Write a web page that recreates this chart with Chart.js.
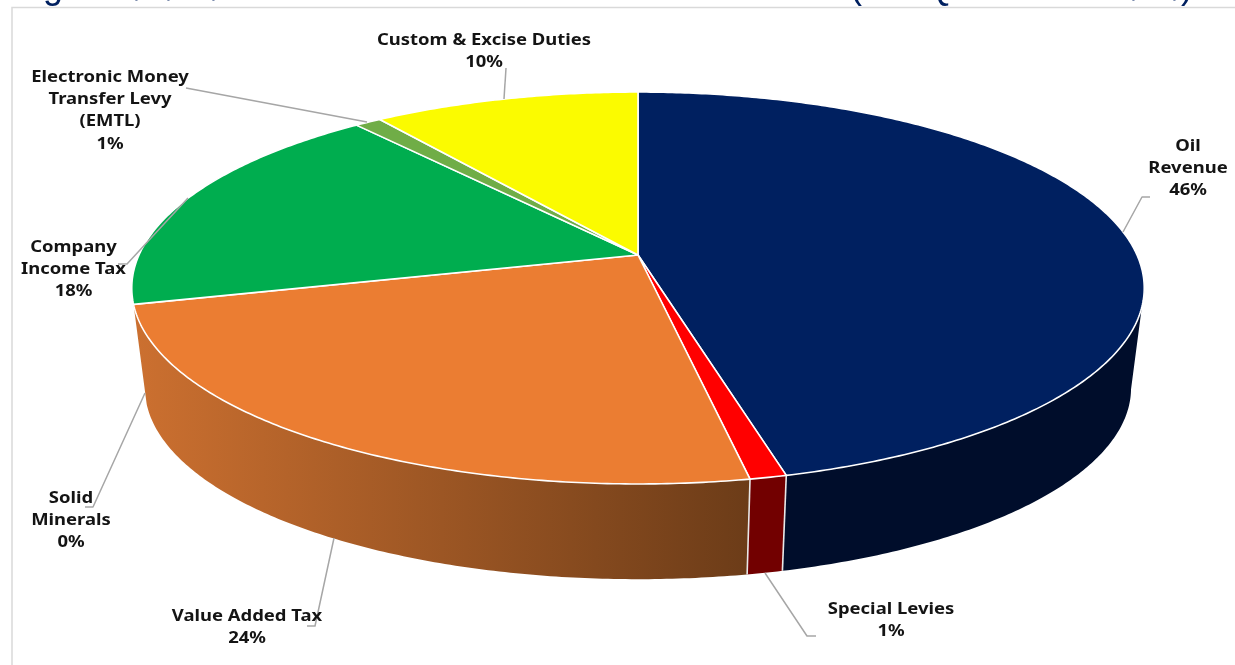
<!DOCTYPE html>
<html>
<head>
<meta charset="utf-8">
<title>Revenue composition</title>
<style>
  html, body { margin: 0; padding: 0; background: #fff; overflow: hidden; }
  canvas { display: block; }
</style>
<script src="https://cdn.jsdelivr.net/npm/chart.js@4/dist/chart.umd.min.js"></script>
</head>
<body>
<canvas id="myChart" width="1235" height="665"></canvas>
<script>
// Revenue shares, clockwise from twelve o'clock
var categories = ["Oil Revenue", "Special Levies", "Solid Minerals", "Value Added Tax", "Company Income Tax", "Electronic Money Transfer Levy (EMTL)", "Custom & Excise Duties"];
var shares = [46, 1, 0, 24, 18, 1, 10];
var shareLabels = ["46%", "1%", "0%", "24%", "18%", "1%", "10%"];

// Colours of the top face and of the side wall (left and right end of its gradient)
var topColors = ["#002060", "#ff0000", "#a5a5a5", "#eb7d32", "#00ad4f", "#70ad47", "#fbfb00"];
var wallLeft = ["#000d2b", "#720000", "#555555", "#cc7030", "#006a30", "#44692b", "#9a9a00"];
var wallRight = ["#000d2b", "#720000", "#555555", "#6c3c18", "#006a30", "#44692b", "#9a9a00"];

// Wrapped category names for the callouts
var labelLines = [
    ["Oil", "Revenue"],
    ["Special Levies"],
    ["Solid", "Minerals"],
    ["Value Added Tax"],
    ["Company", "Income Tax"],
    ["Electronic Money", "Transfer Levy", "(EMTL)"],
    ["Custom & Excise Duties"]
];
var labelBoxes = [
    { x: 1188, y: 145 }, { x: 891, y: 608 }, { x: 71, y: 497 }, { x: 247, y: 615 },
    { x: 73.5, y: 246 }, { x: 110, y: 76 }, { x: 484, y: 39 }
];
var leaders = [
    [[1150, 197], [1142, 197], [1123, 232]],
    [[816, 636], [807, 636], [765, 573]],
    [[85, 507], [93, 507], [145, 393]],
    [[307, 626], [315, 626], [334, 538]],
    [[118, 264], [127, 264], [188, 198]],
    [[186, 88], [367, 122]],
    [[506, 68], [504, 99]]
];

// Heading runs off the top edge, only the lowest strokes stay visible
var headingPieces = [
    { text: "Figure", x: 13, y: -2 }, { text: ",", x: 132, y: -4 }, { text: ",", x: 164, y: -4 }, { text: ",", x: 209, y: -4 },
    { text: "(", x: 850, y: -2 }, { text: "Q", x: 925, y: -1 }, { text: ",", x: 1129, y: -4 }, { text: ",", x: 1170, y: -4 }, { text: ")", x: 1181, y: -2 }
];

// Disc projections, the perspective pushes the apex above the ellipse centre
var topDisc = { cx: 638, cy: 255, a: 499, b: 190.4, p: 0.1684 };
var baseDisc = { cx: 638, cy: 356, a: 486, b: 185.6, p: 0.1684 };

// Part of the rim whose wall faces the viewer
var wallFrom = 10 * Math.PI / 180;
var wallTo = 165.7 * Math.PI / 180;

function project(disc, angle) {
    var u = Math.cos(angle), v = Math.sin(angle);
    var w = 1 - disc.p * v;
    return { x: disc.cx + disc.a * u / w, y: disc.cy + disc.b * v / w };
}

function arcPoints(disc, start, end) {
    var steps = Math.max(2, Math.ceil((end - start) / 0.01));
    var pts = [];
    for (var i = 0; i <= steps; i++) {
        pts.push(project(disc, start + (end - start) * i / steps));
    }
    return pts;
}

var pie3d = {
    id: "pie3d",
    beforeDatasetsDraw: function(chart) {
        var ctx = chart.ctx;
        var arcs = chart.getDatasetMeta(0).data;

        // frame
        ctx.save();
        ctx.strokeStyle = "#d9d9d9";
        ctx.lineWidth = 1.5;
        ctx.beginPath();
        ctx.moveTo(1235, 7.5);
        ctx.lineTo(12, 7.5);
        ctx.lineTo(12, 665);
        ctx.stroke();

        // heading
        ctx.fillStyle = "#002060";
        ctx.font = "36px 'Liberation Sans'";
        ctx.textAlign = "left";
        ctx.textBaseline = "alphabetic";
        headingPieces.forEach(function(piece) {
            ctx.fillText(piece.text, piece.x, piece.y);
        });

        // side walls, one outline per slice so no seams show
        arcs.forEach(function(arc, i) {
            var start = Math.max(arc.startAngle, wallFrom);
            var end = Math.min(arc.endAngle, wallTo);
            if (end <= start) return;
            var top = arcPoints(topDisc, start, end);
            var base = arcPoints(baseDisc, start, end);
            var xs = top.concat(base).map(function(p) { return p.x; });
            var grad = ctx.createLinearGradient(Math.min.apply(null, xs), 0, Math.max.apply(null, xs), 0);
            grad.addColorStop(0, wallLeft[i]);
            grad.addColorStop(1, wallRight[i]);
            ctx.fillStyle = grad;
            ctx.beginPath();
            top.concat(base.reverse()).forEach(function(p, n) {
                if (n === 0) ctx.moveTo(p.x, p.y);
                else ctx.lineTo(p.x, p.y);
            });
            ctx.closePath();
            ctx.fill();
        });

        // wall seams where the slices meet at the front
        ctx.strokeStyle = "#e8e8e8";
        ctx.lineWidth = 1.6;
        arcs.forEach(function(arc) {
            if (arc.endAngle - arc.startAngle <= 0 || Math.sin(arc.endAngle) < 0.5) return;
            var a = project(topDisc, arc.endAngle), b = project(baseDisc, arc.endAngle);
            ctx.beginPath();
            ctx.moveTo(a.x, a.y);
            ctx.lineTo(b.x, b.y);
            ctx.stroke();
        });

        // top face
        ctx.lineJoin = "round";
        arcs.forEach(function(arc, i) {
            if (arc.endAngle - arc.startAngle <= 0) return;
            ctx.beginPath();
            ctx.moveTo(topDisc.cx, topDisc.cy);
            arcPoints(topDisc, arc.startAngle, arc.endAngle).forEach(function(p) {
                ctx.lineTo(p.x, p.y);
            });
            ctx.closePath();
            ctx.fillStyle = topColors[i];
            ctx.fill();
            ctx.strokeStyle = "#ffffff";
            ctx.lineWidth = 1.6;
            ctx.stroke();
        });

        // callout lines
        ctx.strokeStyle = "#a6a6a6";
        ctx.lineWidth = 1.5;
        leaders.forEach(function(line) {
            ctx.beginPath();
            line.forEach(function(pt, n) {
                if (n === 0) ctx.moveTo(pt[0], pt[1]);
                else ctx.lineTo(pt[0], pt[1]);
            });
            ctx.stroke();
        });

        // callout text, set a little wider than the font's own proportions
        ctx.fillStyle = "#141414";
        ctx.font = "bold 15.5px 'Noto Sans'";
        ctx.textAlign = "center";
        ctx.textBaseline = "middle";
        labelLines.forEach(function(lines, i) {
            var box = labelBoxes[i];
            lines.concat(shareLabels[i]).forEach(function(line, n) {
                ctx.save();
                ctx.translate(box.x, box.y + 1.5 + n * 22.2);
                ctx.scale(1.19, 1);
                ctx.fillText(line, 0, 0);
                ctx.restore();
            });
        });
        ctx.restore();
        return false;
    }
};

var myChart = new Chart(document.getElementById("myChart").getContext("2d"), {
    type: "pie",
    data: {
        labels: categories,
        datasets: [{
            data: shares,
            backgroundColor: topColors,
            borderColor: "#ffffff",
            borderWidth: 1
        }]
    },
    options: {
        responsive: false,
        animation: false,
        plugins: {
            legend: { display: false },
            tooltip: { enabled: false }
        }
    },
    plugins: [pie3d]
});
</script>
</body>
</html>
